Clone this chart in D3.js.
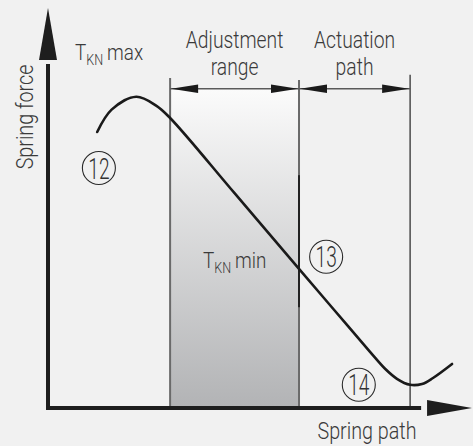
<!DOCTYPE html>
<html>
<head>
<meta charset="utf-8">
<script src="https://cdn.jsdelivr.net/npm/d3@7"></script>
<style>
  html, body { margin: 0; padding: 0; background: #f1f1f1; }
  svg { display: block; }
</style>
</head>
<body>
<script>
// Spring characteristic: force over spring path (normalised 0–100 on both axes)
const springPath  = [11.6, 15.0, 20.8, 25.5, 28.8, 44.0, 59.2, 67.5, 75.9, 79.5, 82.3, 85.4, 88.2, 90.8, 95.3];
const springForce = [69.0, 74.6, 77.8, 75.6, 72.5, 53.7, 34.8, 24.5, 14.1, 9.8, 7.3, 5.8, 6.0, 7.5, 11.0];

// Ranges along the spring path
const zoneNames = ["Adjustment range", "Actuation path"];
const zoneStart = [28.8, 59.2];
const zoneEnd   = [59.2, 85.4];
const dimLevel  = 79.8;   // force level of the dimension arrows

// Circled reference numbers
const markerIds   = ["12", "13", "14"];
const markerPath  = [12.0, 65.6, 73.3];
const markerForce = [60.0, 37.8, 5.8];

const W = 473, H = 446;
const x = d3.scaleLinear().domain([0, 100]).range([48, 472]);
const y = d3.scaleLinear().domain([0, 100]).range([408, 8]);

const svg = d3.select("body").append("svg").attr("width", W).attr("height", H);
svg.append("rect").attr("width", W).attr("height", H).attr("fill", "#f1f1f1");

const defs = svg.append("defs");
const grad = defs.append("linearGradient").attr("id", "adjShade")
  .attr("x1", 0).attr("y1", 0).attr("x2", 0).attr("y2", 1);
grad.append("stop").attr("offset", "0%").attr("stop-color", "#fbfbfb");
grad.append("stop").attr("offset", "100%").attr("stop-color", "#b2b3b5");

const FONT = "Roboto, 'Liberation Sans', sans-serif";
const TXT = "#3a3a3a";

// condensed light label: group scaled horizontally
function label(px, py, anchor, size, sx = 0.84, rot = 0, weight = 300) {
  const g = svg.append("g")
    .attr("transform", `translate(${px},${py}) rotate(${rot}) scale(${sx},1)`);
  return g.append("text")
    .attr("text-anchor", anchor)
    .attr("font-family", FONT).attr("font-weight", weight)
    .attr("font-size", size).attr("fill", TXT);
}

// shaded adjustment range
svg.append("rect")
  .attr("x", x(zoneStart[0])).attr("y", y(dimLevel))
  .attr("width", x(zoneEnd[0]) - x(zoneStart[0]))
  .attr("height", y(0) - y(dimLevel))
  .attr("fill", "url(#adjShade)");

// boundary lines
svg.append("line").attr("x1", x(zoneStart[0])).attr("x2", x(zoneStart[0]))
  .attr("y1", y(82.5)).attr("y2", y(0)).attr("stroke", "#6a6a6a").attr("stroke-width", 2);
svg.append("line").attr("x1", x(zoneEnd[0])).attr("x2", x(zoneEnd[0]))
  .attr("y1", y(82)).attr("y2", y(0)).attr("stroke", "#6a6a6a").attr("stroke-width", 2);
svg.append("line").attr("x1", x(zoneEnd[0])).attr("x2", x(zoneEnd[0]))
  .attr("y1", y(58.2)).attr("y2", y(25.2)).attr("stroke", "#222").attr("stroke-width", 2);
svg.append("line").attr("x1", x(zoneEnd[1])).attr("x2", x(zoneEnd[1]))
  .attr("y1", y(83.3)).attr("y2", y(0)).attr("stroke", "#222").attr("stroke-width", 1.2);

// dimension line with arrowheads
const dy = y(dimLevel);
svg.append("line").attr("x1", x(zoneStart[0])).attr("x2", x(zoneEnd[1]))
  .attr("y1", dy).attr("y2", dy).attr("stroke", "#5a5a5a").attr("stroke-width", 1.5);
function arrowHead(tipX, dir) {
  const len = 27, half = 4.2;
  svg.append("path")
    .attr("d", `M${tipX},${dy} L${tipX + dir * len},${dy - half} L${tipX + dir * len},${dy + half} Z`)
    .attr("fill", "#1a1a1a");
}
zoneStart.forEach((s, i) => {
  arrowHead(x(s) + 1, 1);
  arrowHead(x(zoneEnd[i]) - 1, -1);
});

// zone captions
zoneNames.forEach((name, i) => {
  const cx = (x(zoneStart[i]) + x(zoneEnd[i])) / 2;
  const parts = name.split(" ");
  label(cx, 48, "middle", 23).text(parts[0]);
  label(cx, 75, "middle", 23).text(parts[1]);
});

// spring curve
const pts = springPath.map((p, i) => [x(p), y(springForce[i])]);
svg.append("path")
  .attr("d", d3.line().curve(d3.curveCatmullRom.alpha(0.5))(pts))
  .attr("fill", "none").attr("stroke", "#1a1a1a").attr("stroke-width", 2.6)
  .attr("stroke-linecap", "round").attr("stroke-linejoin", "round");

// axes
const axisCol = "#1e1e1e";
svg.append("line").attr("x1", x(0)).attr("x2", x(0))
  .attr("y1", y(0) + 2).attr("y2", y(86)).attr("stroke", axisCol).attr("stroke-width", 4);
svg.append("path")
  .attr("d", `M${x(0)},${y(100)} L${x(0) + 9},${y(87)} L${x(0) - 9},${y(87)} Z`)
  .attr("fill", axisCol);
svg.append("line").attr("x1", x(0) - 2).attr("x2", x(88))
  .attr("y1", y(0)).attr("y2", y(0)).attr("stroke", axisCol).attr("stroke-width", 4);
svg.append("path")
  .attr("d", `M${x(100)},${y(0)} L${x(89.4)},${y(0) - 8} L${x(89.4)},${y(0) + 8} Z`)
  .attr("fill", axisCol);

// axis titles
label(33, 117, "middle", 23.5, 0.84, -90).text("Spring force");
label(367, 439, "middle", 23.5).text("Spring path");

// T_KN labels
function tkn(px, py, suffix) {
  const t = label(px, py, "start", 22.5);
  t.append("tspan").text("T");
  t.append("tspan").attr("font-size", 15).attr("dy", 5).text("KN");
  t.append("tspan").attr("dy", -5).text("\u2009" + suffix);
}
tkn(75, 60, "max");
tkn(203, 268, "min");

// circled reference numbers
markerIds.forEach((id, i) => {
  const cx = x(markerPath[i]), cy = y(markerForce[i]);
  svg.append("circle").attr("cx", cx).attr("cy", cy).attr("r", 16.5)
    .attr("fill", "none").attr("stroke", "#2a2a2a").attr("stroke-width", 1.1);
  label(cx, cy + 10.5, "middle", 29, 0.66, 0, 300).attr("fill", "#333").text(id);
});
</script>
</body>
</html>
